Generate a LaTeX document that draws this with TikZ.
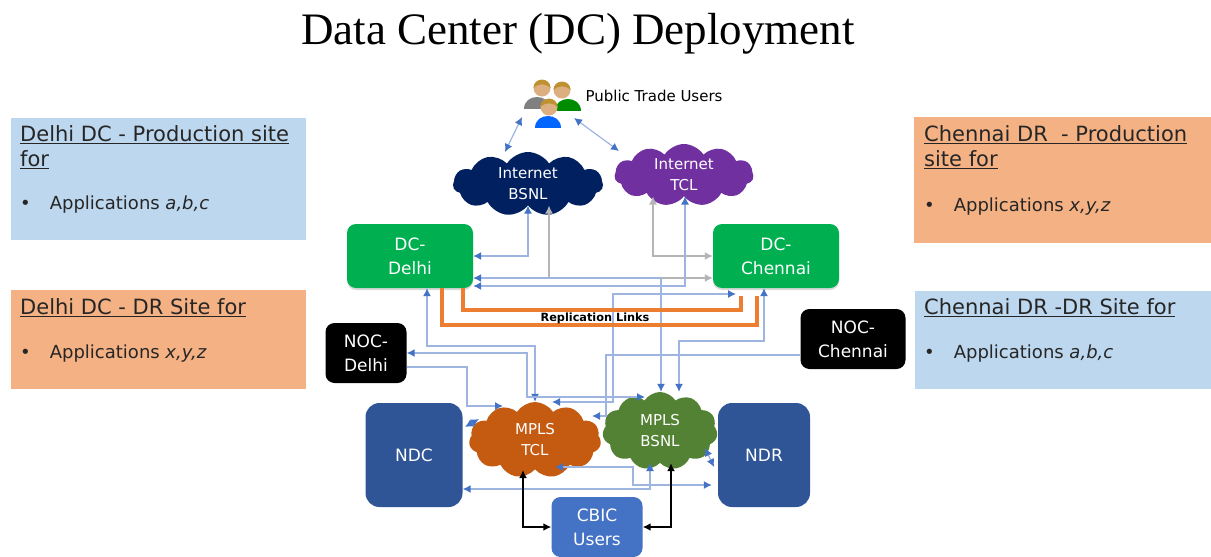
\documentclass[tikz,border=0pt]{standalone}
\usepackage{fontspec}
\setmainfont{DejaVu Sans}
\newfontfamily\titlefont{Liberation Serif}
\usetikzlibrary{arrows.meta,shapes.symbols,shadows}

\definecolor{linkblue}{HTML}{9DB5E0}
\definecolor{tipblue}{HTML}{4472C4}
\definecolor{linkgrey}{HTML}{B5B5B5}
\definecolor{replorange}{HTML}{ED7D31}
\definecolor{panelblue}{HTML}{BDD7EE}
\definecolor{panelorange}{HTML}{F4B183}
\definecolor{dcgreen}{HTML}{00B050}
\definecolor{sitenavy}{HTML}{2F5597}
\definecolor{inetnavy}{HTML}{002060}
\definecolor{inetpurple}{HTML}{7030A0}
\definecolor{mplsrust}{HTML}{C55A11}
\definecolor{mplsgreen}{HTML}{548235}
\definecolor{skin}{HTML}{DDAF80}
\definecolor{hair}{HTML}{BE9230}

\newcommand{\sizedfont}[2]{\fontsize{#1}{#2}\selectfont}

\tikzset{
  panel/.style={rectangle, anchor=north west, inner sep=0pt},
  paneltext/.style={anchor=north west, inner sep=0pt, align=left, text=black!85, font=\sizedfont{21}{25}},
  boxtext/.style={text=white, align=center, inner sep=0pt, font=\sizedfont{17}{24}},
  dcbox/.style={boxtext, rounded corners=9pt, fill=dcgreen, minimum width=126pt, minimum height=64pt,
    drop shadow={opacity=.3, shadow xshift=0pt, shadow yshift=-2pt}},
  nocbox/.style={boxtext, rounded corners=9pt, fill=black, minimum height=60pt},
  sitebox/.style={boxtext, rounded corners=14pt, fill=sitenavy, minimum height=104pt},
  cloudnode/.style={cloud, cloud puffs=11, cloud puff arc=115, boxtext, font=\sizedfont{15}{21}},
  link/.style={draw=linkblue, line width=1.2pt, <->, >={Latex[length=8pt,width=8pt,color=tipblue]}},
  greylink/.style={draw=linkgrey, line width=1.2pt, <->, >={Latex[length=8pt,width=8pt]}},
  blacklink/.style={draw=black, line width=1.8pt, <->, >={Latex[length=8pt,width=8pt]}},
  repl/.style={draw=replorange, line width=3.5pt, shorten >=8pt},
}

\begin{document}
\begin{tikzpicture}[x=1pt, y=-1pt]

    \useasboundingbox (0,0) rectangle (1211,557);

    \node at (578,34) (title) {\titlefont\sizedfont{45}{50}Data Center (DC) Deployment};

    % side panels
    \node[panel, fill=panelblue, minimum width=295pt, minimum height=122pt] at (11,118) (delhiprod) {};
    \node[panel, fill=panelorange, minimum width=295pt, minimum height=99pt] at (11,290) (delhidr) {};
    \node[panel, fill=panelorange, minimum width=297pt, minimum height=126pt] at (914,117) (chennaiprod) {};
    \node[panel, fill=panelblue, minimum width=296pt, minimum height=98pt] at (915,291) (chennaidr) {};

    \node[paneltext] at (20,125) (delhiprodtext) {\underline{Delhi DC - Production site}\\\underline{for}\\[18pt]
      \sizedfont{18}{25}\textbullet\hspace{19pt}Applications \textit{a,b,c}};
    \node[paneltext] at (20,298) (delhidrtext) {\underline{Delhi DC - DR Site for}\\[19pt]
      \sizedfont{18}{25}\textbullet\hspace{19pt}Applications \textit{x,y,z}};
    \node[paneltext] at (924,125) (chennaiprodtext) {\underline{Chennai DR\ \ - Production}\\\underline{site for}\\[20pt]
      \sizedfont{18}{25}\textbullet\hspace{19pt}Applications \textit{x,y,z}};
    \node[paneltext] at (924,298) (chennaidrtext) {\underline{Chennai DR -DR Site for}\\[19pt]
      \sizedfont{18}{25}\textbullet\hspace{19pt}Applications \textit{a,b,c}};

    % the three users
    \foreach \px/\py/\bodyx/\bodycol in {542/88/537/gray, 562/90/568/green!55!black, 549/107/548/blue!60!cyan} {
      \fill[\bodycol] (\bodyx-13,\py+21) .. controls (\bodyx-13,\py+5) and (\bodyx+13,\py+5) .. (\bodyx+13,\py+21) -- cycle;
      \fill[skin] (\px,\py) circle (8.5);
      \fill[hair] (\px-8.5,\py) .. controls (\px-8.5,\py-11) and (\px+8.5,\py-11) .. (\px+8.5,\py) .. controls (\px+3,\py-5) and (\px-3,\py-5) .. cycle;
    }
    \node[font=\sizedfont{15}{16}, inner sep=0pt] at (654,96) (users) {Public Trade Users};

    % clouds
    \node[cloudnode, aspect=2.34, fill=inetnavy, minimum width=150pt, minimum height=64pt] at (528,184) (inetbsnl) {Internet\\BSNL};
    \node[cloudnode, aspect=2.24, fill=inetpurple, minimum width=139pt, minimum height=62pt] at (684,175) (inettcl) {Internet\\TCL};
    \node[cloudnode, aspect=1.74, fill=mplsrust, minimum width=132pt, minimum height=76pt] at (535,440) (mplstcl) {MPLS\\TCL};
    \node[cloudnode, aspect=1.47, fill=mplsgreen, minimum width=115pt, minimum height=78pt] at (660,431) (mplsbsnl) {MPLS\\BSNL};

    % boxes
    \node[dcbox] at (410,256) (dcdelhi) {DC-\\Delhi};
    \node[dcbox] at (776,256) (dcchennai) {DC-\\Chennai};
    \node[nocbox, minimum width=81pt] at (366,353) (nocdelhi) {NOC-\\Delhi};
    \node[nocbox, minimum width=105pt] at (853,339) (nocchennai) {NOC-\\Chennai};
    \node[sitebox, minimum width=97pt] at (414,455) (ndc) {NDC};
    \node[sitebox, minimum width=92pt] at (764,455) (ndr) {NDR};
    \node[boxtext, rounded corners=9pt, fill=tipblue, minimum width=91pt, minimum height=60pt] at (597,527) (cbic) {CBIC\\Users};

    % free ends of the links
    \coordinate (usersleft) at (522,117);
    \coordinate (usersright) at (574,118);
    \coordinate (bsnlup) at (505,152);
    \coordinate (tclup) at (619,151);
    \coordinate (chennaiport) at (736,294);
    \coordinate (bsnlport) at (645,397);
    \coordinate (tclport) at (503,406);
    \coordinate (tcltop) at (552,402);
    \coordinate (tclright) at (592,416);
    \coordinate (tclbottom) at (555,467);
    \coordinate (bsnlbottom) at (650,463);
    \coordinate (ndcport) at (465,427);
    \coordinate (tclleft) at (479,419);
    \coordinate (bsnlright) at (705,448);
    \coordinate (ndrport) at (714,467);
    \coordinate (tclblack) at (523,470);

    \draw[link] (usersleft) -- (bsnlup);
    \draw[link] (usersright) -- (tclup);

    \draw[link] (inetbsnl.south) |- (dcdelhi.east);
    \draw[greylink] (inetbsnl.south -| 549,0) |- (dcchennai.west |- 0,278);
    \draw[greylink] (inettcl.south -| 653,0) |- (dcchennai.west);
    \draw[link] (inettcl.south -| 685,0) |- (dcdelhi.east |- 0,286);
    \draw[link] (dcdelhi.east |- 0,278) -| (mplsbsnl.north -| 661,0);

    \draw[link] (dcdelhi.south -| 427,0) |- (535,346) -- (mplstcl.north);
    \draw[link] (nocdelhi.east |- 0,353) -| (527,397) -- (bsnlport);
    \draw[link, ->] (nocdelhi.east |- 0,367) -| (467,406) -- (tclport);
    \draw[link] (chennaiport) -| (613,402) -- (tcltop);
    \draw[link] (dcchennai.south -| 764,0) |- (679,341) -- (mplsbsnl.north -| 679,0);
    \draw[link, ->] (nocchennai.west |- 0,355) -| (606,416) -- (tclright);

    \draw[link] (ndc.east |- 0,489) -| (bsnlbottom);
    \draw[link, shorten >=6pt] (tclbottom) -| (633,485) -- (ndr.west |- 0,485);
    \draw[link] (ndcport) -- (tclleft);
    \draw[link] (bsnlright) -- (ndrport);

    \draw[blacklink] (tclblack) |- (cbic.west);
    \draw[blacklink] (mplsbsnl.south -| 671,0) |- (cbic.east);

    \draw[repl] (dcdelhi.south -| 442,0) |- (757,325) -- (dcchennai.south -| 757,0);
    \draw[repl] (dcdelhi.south -| 463,0) |- (741,310) -- (dcchennai.south -| 741,0);
    \node[font=\bfseries\sizedfont{11.3}{14}, inner sep=0pt] at (595,318) (repllabel) {Replication Links};

  \end{tikzpicture}
\end{document}
